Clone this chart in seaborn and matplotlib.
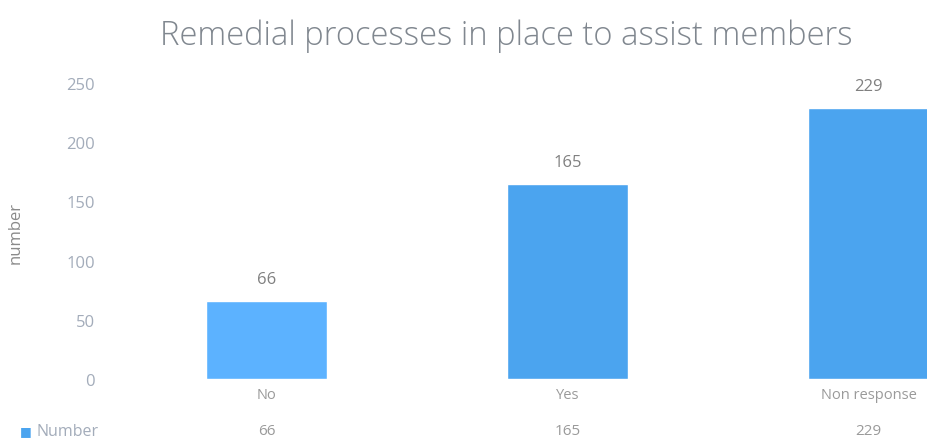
import matplotlib
matplotlib.use("Agg")
import matplotlib.pyplot as plt
import matplotlib.transforms as mtransforms
import seaborn as sns
import pandas as pd

categories = ["No", "Yes", "Non response"]
values = [66, 165, 229]
yticks = [0, 50, 100, 150, 200, 250]
title = "Remedial processes in place to assist members"
ylabel = "number"
series_name = "Number"

sns.set_theme(style="white")
plt.rcParams['font.family'] = ['Open Sans', 'DejaVu Sans']

W, H = 927, 439
fig = plt.figure(figsize=(W / 100, H / 100), dpi=100)
ax = fig.add_axes([116 / W, (H - 380) / H, 903 / W, (380 - 84) / H])

df = pd.DataFrame({"cat": categories, "val": values})
bar_colors = ["#5CB2FF", "#4BA4EF", "#4BA4EF"]
sns.barplot(data=df, x="cat", y="val", hue="cat", palette=bar_colors,
            width=0.40, legend=False, ax=ax, saturation=1)

ax.set_ylim(0, 250)
ax.set_yticks(yticks)
ax.set_xlim(-0.5, 2.5)
for s in ax.spines.values():
    s.set_visible(False)
ax.tick_params(axis='y', length=0, pad=15, labelsize=12, labelcolor="#A3ACBA")
ax.tick_params(axis='x', length=0, pad=6, labelsize=10.5, labelcolor="#9A9A9A")
ax.set_xlabel("")
ax.set_ylabel("")

for cont in ax.containers:
    ax.bar_label(cont, fmt="%d", padding=10, fontsize=12, color="#808080")

fig.text(16 / W, 1 - 233 / H, ylabel, rotation=90, va="center", ha="center",
         fontsize=12, color="#8A8A8A")
fig.text(506 / W, 1 - 36 / H, title, ha="center", va="center",
         fontsize=23.6, fontweight="light", color="#80878F")

# data table row
trans = mtransforms.blended_transform_factory(ax.transData, fig.transFigure)
ty = 1 - 432 / H
for i, v in enumerate(values):
    ax.text(i, ty, str(v), transform=trans, ha="center", va="center",
            fontsize=11, color="#9A9A9A", clip_on=False)
fig.text(20 / W, ty, "\u25A0", ha="left", va="center", fontsize=9, color="#4BA4EF")
fig.text(36 / W, ty, series_name, ha="left", va="center", fontsize=11.5, color="#A3ACBA")

fig.savefig("out.png", dpi=100)
